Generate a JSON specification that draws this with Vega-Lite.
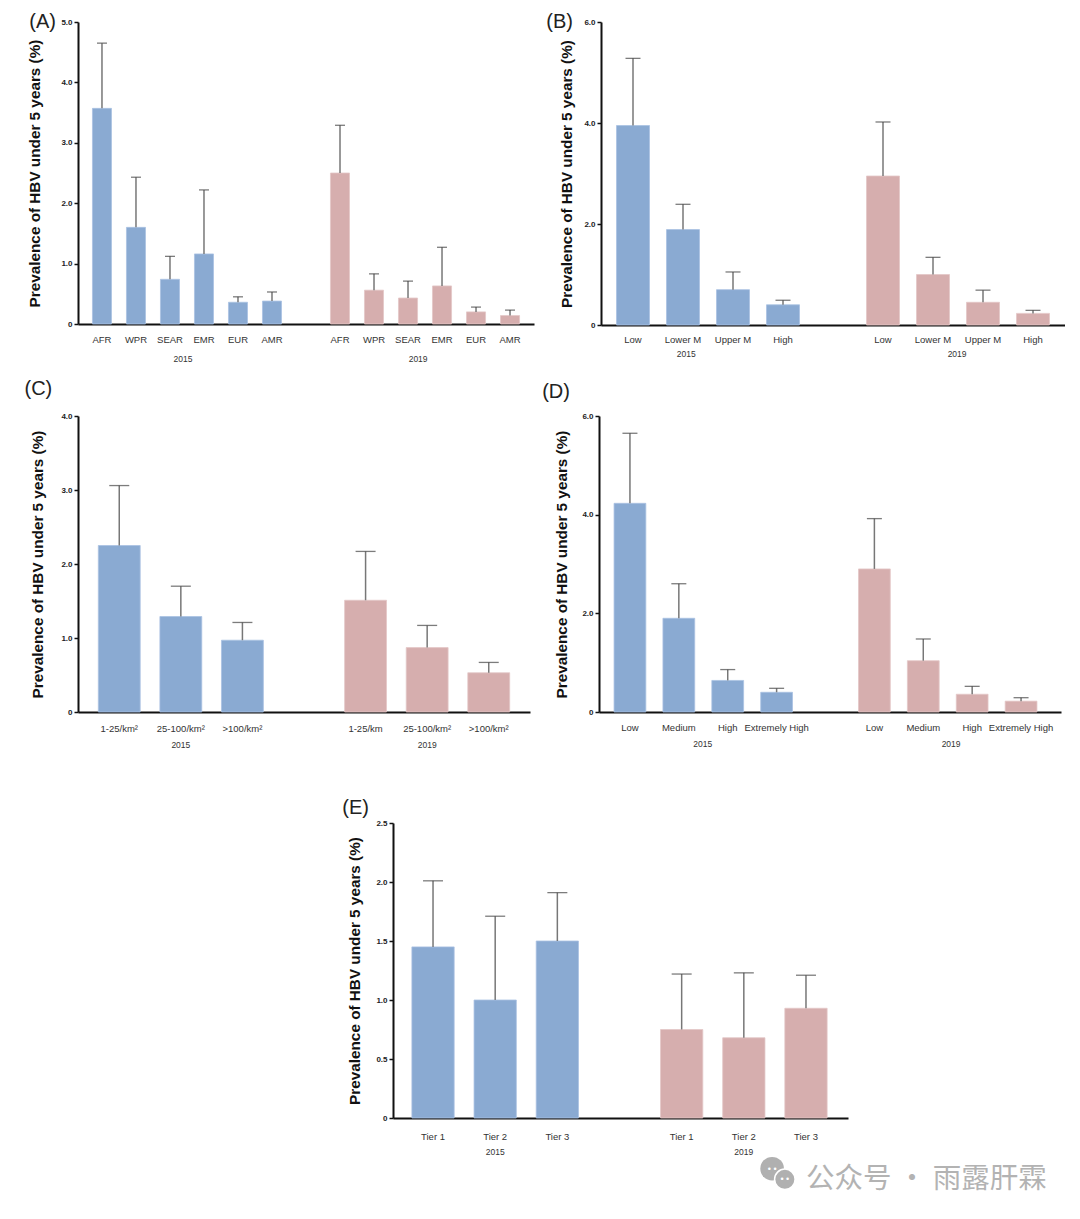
{"$schema":"https://vega.github.io/schema/vega-lite/v6.json","background":"white","padding":{"left":24,"top":12,"right":0,"bottom":0},
"config":{"font":"Liberation Sans","view":{"stroke":null},"axisX":{"title":null,"ticks":false,"domainColor":"#111","domainWidth":2,"labelAngle":0,"labelFontSize":9.5,"labelColor":"#333","labelPadding":9,"labelOverlap":false,"labelFlush":false,"grid":false},"axisY":{"domainColor":"#111","domainWidth":2,"tickColor":"#111","tickWidth":1.5,"tickSize":4,"labelFontSize":8,"labelFontWeight":"bold","labelColor":"#222","labelPadding":2,"titleFontSize":15.3,"titleFontWeight":"bold","titleColor":"#111","grid":false}},
"datasets":{
"A":[{"year":"2015","key":"2015 AFR","value":3.57,"upper":4.65},{"year":"2015","key":"2015 WPR","value":1.6,"upper":2.43},{"year":"2015","key":"2015 SEAR","value":0.74,"upper":1.12},{"year":"2015","key":"2015 EMR","value":1.16,"upper":2.22},{"year":"2015","key":"2015 EUR","value":0.36,"upper":0.45},{"year":"2015","key":"2015 AMR","value":0.38,"upper":0.53},{"year":"2019","key":"2019 AFR","value":2.5,"upper":3.29},{"year":"2019","key":"2019 WPR","value":0.56,"upper":0.83},{"year":"2019","key":"2019 SEAR","value":0.43,"upper":0.71},{"year":"2019","key":"2019 EMR","value":0.63,"upper":1.27},{"year":"2019","key":"2019 EUR","value":0.2,"upper":0.28},{"year":"2019","key":"2019 AMR","value":0.14,"upper":0.23}],
"B":[{"year":"2015","key":"2015 Low","value":3.95,"upper":5.28},{"year":"2015","key":"2015 Lower M","value":1.89,"upper":2.39},{"year":"2015","key":"2015 Upper M","value":0.7,"upper":1.05},{"year":"2015","key":"2015 High","value":0.4,"upper":0.49},{"year":"2019","key":"2019 Low","value":2.95,"upper":4.02},{"year":"2019","key":"2019 Lower M","value":1.0,"upper":1.34},{"year":"2019","key":"2019 Upper M","value":0.45,"upper":0.69},{"year":"2019","key":"2019 High","value":0.23,"upper":0.29}],
"C":[{"year":"2015","key":"2015 1-25/km²","value":2.25,"upper":3.06},{"year":"2015","key":"2015 25-100/km²","value":1.29,"upper":1.7},{"year":"2015","key":"2015 >100/km²","value":0.97,"upper":1.21},{"year":"2019","key":"2019 1-25/km","value":1.51,"upper":2.17},{"year":"2019","key":"2019 25-100/km²","value":0.87,"upper":1.17},{"year":"2019","key":"2019 >100/km²","value":0.53,"upper":0.67}],
"D":[{"year":"2015","key":"2015 Low","value":4.23,"upper":5.65},{"year":"2015","key":"2015 Medium","value":1.9,"upper":2.6},{"year":"2015","key":"2015 High","value":0.64,"upper":0.86},{"year":"2015","key":"2015 Extremely High","value":0.4,"upper":0.48},{"year":"2019","key":"2019 Low","value":2.9,"upper":3.92},{"year":"2019","key":"2019 Medium","value":1.04,"upper":1.48},{"year":"2019","key":"2019 High","value":0.36,"upper":0.52},{"year":"2019","key":"2019 Extremely High","value":0.22,"upper":0.29}],
"E":[{"year":"2015","key":"2015 Tier  1","value":1.45,"upper":2.01},{"year":"2015","key":"2015 Tier 2","value":1.0,"upper":1.71},{"year":"2015","key":"2015 Tier 3","value":1.5,"upper":1.91},{"year":"2019","key":"2019 Tier 1","value":0.75,"upper":1.22},{"year":"2019","key":"2019 Tier 2","value":0.68,"upper":1.23},{"year":"2019","key":"2019 Tier 3","value":0.93,"upper":1.21}]
},
"vconcat":[{"vconcat":[{"hconcat":[
{"width":456,"height":302,
"layer":[
{"data":{"name":"A"},"mark":{"type":"bar","strokeWidth":0.8},"encoding":{"x":{"field":"key","type":"nominal","sort":null,"scale":{"domain":["2015 AFR","2015 WPR","2015 SEAR","2015 EMR","2015 EUR","2015 AMR"," ","2019 AFR","2019 WPR","2019 SEAR","2019 EMR","2019 EUR","2019 AMR"],"paddingInner":0.44,"paddingOuter":0.425},"axis":{"labelExpr":"slice(datum.label,5)","labelPadding":10}},"y":{"field":"value","type":"quantitative","scale":{"domain":[0,5],"nice":false},"axis":{"title":"Prevalence of HBV under 5 years (%)","titlePadding":18.5,"values":[0,1,2,3,4,5],"labelExpr":"datum.value==0?'0':format(datum.value,'.1f')"}},"fill":{"field":"year","type":"nominal","scale":{"domain":["2015","2019"],"range":["#8aaad2","#d6aeae"]},"legend":null},"stroke":{"field":"year","type":"nominal","scale":{"domain":["2015","2019"],"range":["#a9c2e2","#e3c6c6"]},"legend":null}}},
{"data":{"name":"A"},"mark":{"type":"rule","color":"#777","strokeWidth":1.5},"encoding":{"x":{"field":"key","type":"nominal"},"y":{"field":"value","type":"quantitative"},"y2":{"field":"upper"}}},
{"data":{"name":"A"},"mark":{"type":"tick","color":"#444","thickness":1.3,"size":10},"encoding":{"x":{"field":"key","type":"nominal"},"y":{"field":"upper","type":"quantitative"}}},
{"data":{"values":[{"year":"2015","key":"2015 SEAR"}]},"mark":{"type":"text","fontSize":8.5,"color":"#333"},"encoding":{"x":{"field":"key","type":"nominal","bandPosition":1.18},"y":{"datum":-0.58},"text":{"field":"year"}}},
{"data":{"values":[{"year":"2019","key":"2019 SEAR"}]},"mark":{"type":"text","fontSize":8.5,"color":"#333"},"encoding":{"x":{"field":"key","type":"nominal","bandPosition":1.03},"y":{"datum":-0.58},"text":{"field":"year"}}},
{"data":{"values":[{"panel":"(A)","key":"2015 AFR"}]},"mark":{"type":"text","fontSize":20,"color":"#222","align":"right","dx":-46},"encoding":{"x":{"field":"key","type":"nominal"},"y":{"datum":5},"text":{"field":"panel"}}}
]},
{"width":464,"height":303,
"layer":[
{"data":{"name":"B"},"mark":{"type":"bar","strokeWidth":0.8},"encoding":{"x":{"field":"key","type":"nominal","sort":null,"scale":{"domain":["2015 Low","2015 Lower M","2015 Upper M","2015 High"," ","2019 Low","2019 Lower M","2019 Upper M","2019 High"],"paddingInner":0.34,"paddingOuter":0.31},"axis":{"labelExpr":"slice(datum.label,5)"}},"y":{"field":"value","type":"quantitative","scale":{"domain":[0,6],"nice":false},"axis":{"title":"Prevalence of HBV under 5 years (%)","titlePadding":9.5,"values":[0,2,4,6],"labelExpr":"datum.value==0?'0':format(datum.value,'.1f')"}},"fill":{"field":"year","type":"nominal","scale":{"domain":["2015","2019"],"range":["#8aaad2","#d6aeae"]},"legend":null},"stroke":{"field":"year","type":"nominal","scale":{"domain":["2015","2019"],"range":["#a9c2e2","#e3c6c6"]},"legend":null}}},
{"data":{"name":"B"},"mark":{"type":"rule","color":"#777","strokeWidth":1.5},"encoding":{"x":{"field":"key","type":"nominal"},"y":{"field":"value","type":"quantitative"},"y2":{"field":"upper"}}},
{"data":{"name":"B"},"mark":{"type":"tick","color":"#444","thickness":1.3,"size":15},"encoding":{"x":{"field":"key","type":"nominal"},"y":{"field":"upper","type":"quantitative"}}},
{"data":{"values":[{"year":"2015","key":"2015 Lower M"}]},"mark":{"type":"text","fontSize":8.5,"color":"#333"},"encoding":{"x":{"field":"key","type":"nominal","bandPosition":0.6},"y":{"datum":-0.574},"text":{"field":"year"}}},
{"data":{"values":[{"year":"2019","key":"2019 Lower M"}]},"mark":{"type":"text","fontSize":8.5,"color":"#333"},"encoding":{"x":{"field":"key","type":"nominal","bandPosition":1.23},"y":{"datum":-0.574},"text":{"field":"year"}}},
{"data":{"values":[{"panel":"(B)","key":"2015 Low"}]},"mark":{"type":"text","fontSize":20,"color":"#222","align":"right","dx":-60},"encoding":{"x":{"field":"key","type":"nominal"},"y":{"datum":6},"text":{"field":"panel"}}}
]}
],"spacing":12},
{"hconcat":[
{"width":452,"height":296,
"layer":[
{"data":{"name":"C"},"mark":{"type":"bar","strokeWidth":0.8},"encoding":{"x":{"field":"key","type":"nominal","sort":null,"scale":{"domain":["2015 1-25/km²","2015 25-100/km²","2015 >100/km²"," ","2019 1-25/km","2019 25-100/km²","2019 >100/km²"],"paddingInner":0.32,"paddingOuter":0.33},"axis":{"labelExpr":"slice(datum.label,5)","labelPadding":11}},"y":{"field":"value","type":"quantitative","scale":{"domain":[0,4],"nice":false},"axis":{"title":"Prevalence of HBV under 5 years (%)","titlePadding":15.5,"values":[0,1,2,3,4],"labelExpr":"datum.value==0?'0':format(datum.value,'.1f')"}},"fill":{"field":"year","type":"nominal","scale":{"domain":["2015","2019"],"range":["#8aaad2","#d6aeae"]},"legend":null},"stroke":{"field":"year","type":"nominal","scale":{"domain":["2015","2019"],"range":["#a9c2e2","#e3c6c6"]},"legend":null}}},
{"data":{"name":"C"},"mark":{"type":"rule","color":"#777","strokeWidth":1.5},"encoding":{"x":{"field":"key","type":"nominal"},"y":{"field":"value","type":"quantitative"},"y2":{"field":"upper"}}},
{"data":{"name":"C"},"mark":{"type":"tick","color":"#444","thickness":1.3,"size":20},"encoding":{"x":{"field":"key","type":"nominal"},"y":{"field":"upper","type":"quantitative"}}},
{"data":{"values":[{"year":"2015","key":"2015 25-100/km²"}]},"mark":{"type":"text","fontSize":8.5,"color":"#333"},"encoding":{"x":{"field":"key","type":"nominal"},"y":{"datum":-0.446},"text":{"field":"year"}}},
{"data":{"values":[{"year":"2019","key":"2019 25-100/km²"}]},"mark":{"type":"text","fontSize":8.5,"color":"#333"},"encoding":{"x":{"field":"key","type":"nominal"},"y":{"datum":-0.446},"text":{"field":"year"}}},
{"data":{"values":[{"panel":"(C)","key":"2015 1-25/km²"}]},"mark":{"type":"text","fontSize":20,"color":"#222","align":"right","dx":-67},"encoding":{"x":{"field":"key","type":"nominal"},"y":{"datum":4.36},"text":{"field":"panel"}}}
]},
{"width":462,"height":296,
"layer":[
{"data":{"name":"D"},"mark":{"type":"bar","strokeWidth":0.8},"encoding":{"x":{"field":"key","type":"nominal","sort":null,"scale":{"domain":["2015 Low","2015 Medium","2015 High","2015 Extremely High"," ","2019 Low","2019 Medium","2019 High","2019 Extremely High"],"paddingInner":0.35,"paddingOuter":0.4,"align":0.385},"axis":{"labelExpr":"slice(datum.label,5)","labelPadding":10}},"y":{"field":"value","type":"quantitative","scale":{"domain":[0,6],"nice":false},"axis":{"title":"Prevalence of HBV under 5 years (%)","titlePadding":12.5,"values":[0,2,4,6],"labelExpr":"datum.value==0?'0':format(datum.value,'.1f')"}},"fill":{"field":"year","type":"nominal","scale":{"domain":["2015","2019"],"range":["#8aaad2","#d6aeae"]},"legend":null},"stroke":{"field":"year","type":"nominal","scale":{"domain":["2015","2019"],"range":["#a9c2e2","#e3c6c6"]},"legend":null}}},
{"data":{"name":"D"},"mark":{"type":"rule","color":"#777","strokeWidth":1.5},"encoding":{"x":{"field":"key","type":"nominal"},"y":{"field":"value","type":"quantitative"},"y2":{"field":"upper"}}},
{"data":{"name":"D"},"mark":{"type":"tick","color":"#444","thickness":1.3,"size":15},"encoding":{"x":{"field":"key","type":"nominal"},"y":{"field":"upper","type":"quantitative"}}},
{"data":{"values":[{"year":"2015","key":"2015 Medium"}]},"mark":{"type":"text","fontSize":8.5,"color":"#333"},"encoding":{"x":{"field":"key","type":"nominal","bandPosition":1.25},"y":{"datum":-0.649},"text":{"field":"year"}}},
{"data":{"values":[{"year":"2019","key":"2019 Medium"}]},"mark":{"type":"text","fontSize":8.5,"color":"#333"},"encoding":{"x":{"field":"key","type":"nominal","bandPosition":1.375},"y":{"datum":-0.649},"text":{"field":"year"}}},
{"data":{"values":[{"panel":"(D)","key":"2015 Low"}]},"mark":{"type":"text","fontSize":20,"color":"#222","align":"right","dx":-60},"encoding":{"x":{"field":"key","type":"nominal"},"y":{"datum":6.49},"text":{"field":"panel"}}}
]}
],"spacing":12}
],"spacing":15},
{"hconcat":[
{"width":241,"height":10,"data":{"values":[]},"mark":"point"},
{"width":455,"height":295,
"layer":[
{"data":{"name":"E"},"mark":{"type":"bar","strokeWidth":0.8},"encoding":{"x":{"field":"key","type":"nominal","sort":null,"scale":{"domain":["2015 Tier  1","2015 Tier 2","2015 Tier 3"," ","2019 Tier 1","2019 Tier 2","2019 Tier 3"],"paddingInner":0.32,"paddingOuter":0.32,"align":0.475},"axis":{"labelExpr":"slice(datum.label,5)","labelPadding":13}},"y":{"field":"value","type":"quantitative","scale":{"domain":[0,2.5],"nice":false},"axis":{"title":"Prevalence of HBV under 5 years (%)","titlePadding":13.5,"values":[0,0.5,1,1.5,2,2.5],"labelExpr":"datum.value==0?'0':format(datum.value,'.1f')"}},"fill":{"field":"year","type":"nominal","scale":{"domain":["2015","2019"],"range":["#8aaad2","#d6aeae"]},"legend":null},"stroke":{"field":"year","type":"nominal","scale":{"domain":["2015","2019"],"range":["#a9c2e2","#e3c6c6"]},"legend":null}}},
{"data":{"name":"E"},"mark":{"type":"rule","color":"#777","strokeWidth":1.5},"encoding":{"x":{"field":"key","type":"nominal"},"y":{"field":"value","type":"quantitative"},"y2":{"field":"upper"}}},
{"data":{"name":"E"},"mark":{"type":"tick","color":"#444","thickness":1.3,"size":20},"encoding":{"x":{"field":"key","type":"nominal"},"y":{"field":"upper","type":"quantitative"}}},
{"data":{"values":[{"year":"2015","key":"2015 Tier 2"}]},"mark":{"type":"text","fontSize":8.5,"color":"#333"},"encoding":{"x":{"field":"key","type":"nominal"},"y":{"datum":-0.29},"text":{"field":"year"}}},
{"data":{"values":[{"year":"2019","key":"2019 Tier 2"}]},"mark":{"type":"text","fontSize":8.5,"color":"#333"},"encoding":{"x":{"field":"key","type":"nominal"},"y":{"datum":-0.29},"text":{"field":"year"}}},
{"data":{"values":[{"panel":"(E)","key":"2015 Tier  1"}]},"mark":{"type":"text","fontSize":20,"color":"#222","align":"right","dx":-64},"encoding":{"x":{"field":"key","type":"nominal"},"y":{"datum":2.63},"text":{"field":"panel"}}},
{"data":{"values":[{"key":"2019 Tier 2"}]},"mark":{"type":"point","filled":true,"color":"#b0b0b0","opacity":1,"size":560},"encoding":{"x":{"field":"key","type":"nominal","bandPosition":1.17},"y":{"datum":-0.43}}},
{"data":{"values":[{"key":"2019 Tier 3"}]},"mark":{"type":"point","filled":true,"color":"#b0b0b0","stroke":"white","strokeWidth":1.5,"opacity":1,"size":420},"encoding":{"x":{"field":"key","type":"nominal","bandPosition":0},"y":{"datum":-0.52}}},
{"data":{"values":[{"eyes":"• •","key":"2019 Tier 2"}]},"mark":{"type":"text","fontSize":9,"color":"white"},"encoding":{"x":{"field":"key","type":"nominal","bandPosition":1.17},"y":{"datum":-0.43},"text":{"field":"eyes"}}},
{"data":{"values":[{"eyes":"• •","key":"2019 Tier 3"}]},"mark":{"type":"text","fontSize":9,"color":"white"},"encoding":{"x":{"field":"key","type":"nominal","bandPosition":0},"y":{"datum":-0.52},"text":{"field":"eyes"}}},
{"data":{"values":[{"wm":"公众号 · 雨露肝霖","key":"2019 Tier 3"}]},"mark":{"type":"text","fontSize":28.5,"color":"#b3b3b3","align":"left","font":"Noto Sans CJK SC"},"encoding":{"x":{"field":"key","type":"nominal"},"y":{"datum":-0.52},"text":{"field":"wm"}}}
]}
],"spacing":23}
],"spacing":47}
